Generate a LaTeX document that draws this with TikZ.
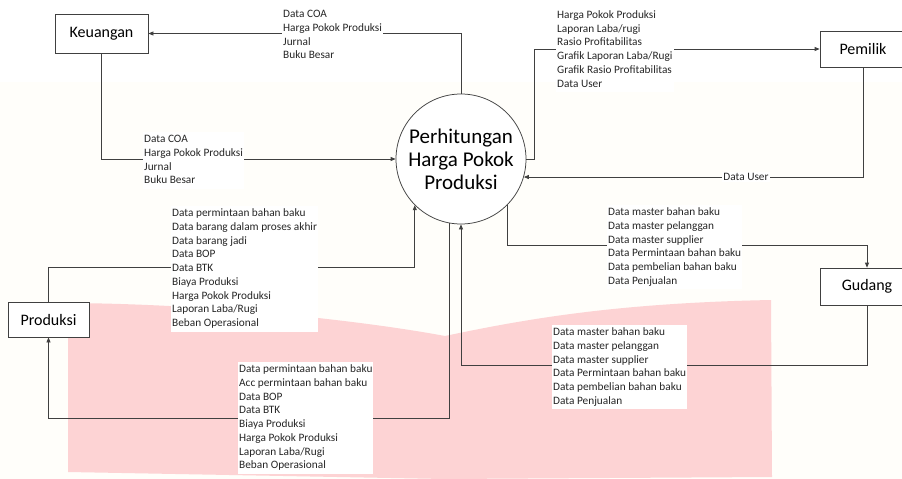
\documentclass[tikz,border=0pt]{standalone}
\usepackage{fontspec}
\setmainfont{Carlito}
\usetikzlibrary{arrows.meta}
\definecolor{ln}{HTML}{404040}
\definecolor{cream}{HTML}{FFFEFA}
\definecolor{pinkwm}{RGB}{253,211,212}
\newcommand\mylines[1]{\begin{tabular}[t]{@{}l@{}}#1\end{tabular}}
\newcommand\lblfont{\fontsize{11.3}{13.75}\selectfont}
\begin{document}
\begin{tikzpicture}[x=1pt,y=-1pt,
  entity/.style={draw=ln, line width=0.75pt, fill=white, inner sep=0pt, font=\fontsize{16}{19}\selectfont},
  proc/.style={circle, draw=ln, line width=0.75pt, fill=white, inner sep=0pt, minimum size=130pt, align=center, font=\fontsize{21}{23}\selectfont},
  flow/.style={draw=ln, line width=0.75pt, -{Triangle[length=5pt,width=4pt]}},
  lab/.style={fill=white, inner sep=1pt, anchor=base west, font=\lblfont, text=black!85}]
\useasboundingbox (0,0) rectangle (902,479);
\clip (0,0) rectangle (902,479);
% background
\fill[white] (0,0) rectangle (902,82);
\fill[cream] (0,82) rectangle (902,479);
\fill[pinkwm] (68,303) .. controls (220,304) and (370,322) .. (445,336)
  .. controls (530,318) and (620,303) .. (771,300)
  -- (772,477) -- (445,479) -- (68,472) -- cycle;
% nodes
\node[proc] (C) at (461,159) {Perhitungan\\Harga Pokok\\Produksi};
\node[entity, minimum width=93pt, minimum height=39pt] (K) at (101.5,33.5) {Keuangan};
\node[entity, minimum width=86pt, minimum height=36pt] (P) at (863,49) {Pemilik};
\node[entity, minimum width=94pt, minimum height=37pt] (G) at (867,286.5) {Gudang};
\node[entity, minimum width=81pt, minimum height=35pt] (R) at (48.5,319.5) {Produksi};
% connectors
\draw[flow] (C.north) |- (K.east);
\draw[flow] (K.south) |- (C.west);
\draw[flow] (C.east) -- ++(8,0) |- (P.west);
\draw[flow] (P.south) |- (C.-16);
\draw[flow] (C.-45) -- ++(0,40) -| (G.north);
\draw[flow] (G.south) -- ++(0,60) -| (C.south);
\draw[flow] (R.north) -- ++(0,-34) -| (C.-135);
\draw[flow] (C.-100) -- ++(0,195) -| (R.south);
% labels
\node[lab] (l1) at (282,17.5) {\mylines{Data COA\\Harga Pokok Produksi\\Jurnal\\Buku Besar}};
\node[lab] (l2) at (143,142.5) {\mylines{Data COA\\Harga Pokok Produksi\\Jurnal\\Buku Besar}};
\node[lab] (l3) at (556,18.5) {\mylines{Harga Pokok Produksi\\Laporan Laba/rugi\\Rasio Profitabilitas\\Grafik Laporan Laba/Rugi\\Grafik Rasio Profitabilitas\\Data User}};
\node[fill=white, inner sep=1pt, font=\lblfont, text=black!85] (l4) at (746,177) {Data User};
\node[lab] (l5) at (607,215.5) {\mylines{Data master bahan baku\\Data master pelanggan\\Data master supplier\\Data Permintaan bahan baku\\Data pembelian bahan baku\\Data Penjualan}};
\node[lab] (l6) at (552,335.5) {\mylines{Data master bahan baku\\Data master pelanggan\\Data master supplier\\Data Permintaan bahan baku\\Data pembelian bahan baku\\Data Penjualan}};
\node[lab] (l7) at (171,216.5) {\mylines{Data permintaan bahan baku\\Data barang dalam proses akhir\\Data barang jadi\\Data BOP\\Data BTK\\Biaya Produksi\\Harga Pokok Produksi\\Laporan Laba/Rugi\\Beban Operasional}};
\node[lab] (l8) at (238,372.5) {\mylines{Data permintaan bahan baku\\Acc permintaan bahan baku\\Data BOP\\Data BTK\\Biaya Produksi\\Harga Pokok Produksi\\Laporan Laba/Rugi\\Beban Operasional}};
\end{tikzpicture}
\end{document}
